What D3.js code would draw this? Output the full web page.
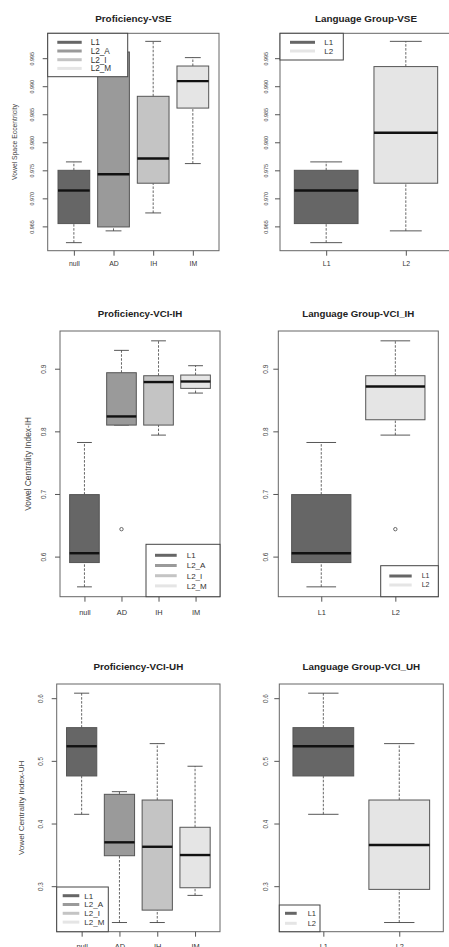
<!DOCTYPE html>
<html>
<head>
<meta charset="utf-8">
<script src="https://cdn.jsdelivr.net/npm/d3@7/dist/d3.min.js"></script>
<style>
  body { margin: 0; background: #fff; }
  svg { display: block; font-family: "Liberation Sans", Arial, sans-serif; }
</style>
</head>
<body>
<svg id="chart" width="449" height="947"></svg>
<script>
// categories and legend labels
const profCats = ["null", "AD", "IH", "IM"]
const langCats = ["L1", "L2"]
const profLegend = ["L1", "L2_A", "L2_I", "L2_M"]
const langLegend = ["L1", "L2"]

// box stats: [lower whisker, Q1, median, Q3, upper whisker]
const vseProf = [
  [0.9621, 0.9655, 0.9714, 0.9750, 0.9765],
  [0.9642, 0.9649, 0.9743, 0.9961, 0.9962],
  [0.9674, 0.9727, 0.9771, 0.9882, 0.9980],
  [0.9762, 0.9861, 0.9909, 0.9936, 0.9951]
]
const vseLang = [
  [0.9621, 0.9655, 0.9714, 0.9750, 0.9765],
  [0.9642, 0.9727, 0.9817, 0.9935, 0.9980]
]
const vciIhProf = [
  [0.5517, 0.5905, 0.6054, 0.6990, 0.7822],
  [0.8100, 0.8100, 0.8238, 0.8936, 0.9293],
  [0.7940, 0.8100, 0.8787, 0.8888, 0.9445],
  [0.8611, 0.8686, 0.8796, 0.8899, 0.9048]
]
const vciIhProfOut = [[], [0.6438], [], []]
const vciIhLang = [
  [0.5517, 0.5905, 0.6054, 0.6990, 0.7822],
  [0.7940, 0.8185, 0.8717, 0.8888, 0.9445]
]
const vciIhLangOut = [[], [0.6438]]
const vciUhProf = [
  [0.4147, 0.4759, 0.5233, 0.5530, 0.6080],
  [0.2420, 0.3486, 0.3700, 0.4466, 0.4508],
  [0.2420, 0.2618, 0.3629, 0.4375, 0.5275],
  [0.2853, 0.2975, 0.3497, 0.3940, 0.4914]
]
const vciUhLang = [
  [0.4147, 0.4759, 0.5233, 0.5530, 0.6080],
  [0.2420, 0.2949, 0.3657, 0.4375, 0.5275]
]

// y tick values
const vseTicks = [0.965, 0.970, 0.975, 0.980, 0.985, 0.990, 0.995]
const vciIhTicks = [0.6, 0.7, 0.8, 0.9]
const vciUhTicks = [0.3, 0.4, 0.5, 0.6]

// fills
const profFills = ["#666666", "#9a9a9a", "#c4c4c4", "#e5e5e5"]
const langFills = ["#666666", "#e5e5e5"]

const panels = [
  {title: "Proficiency-VSE", cats: profCats, stats: vseProf, out: null, fills: profFills,
   ticks: vseTicks, fmt: ".3f", ylab: "Vowel Space Eccentricity",
   l: 47.7, r: 219, t: 33.3, b: 250.7, titleY: 18.3, tickX: 32.2, ylabX: 14, xlabY: 263.3,
   tickFs: 5.4, labFs: 6.8, xFs: 6.9, titleFs: 9.9,
   legend: {labels: profLegend, x0: 47.7, x1: 127.7, y0: 33.3, y1: 76.7, lx0: 57.3, lx1: 81.7, tx: 90.7, ry: 42.3, dy: 8.7, fs: 8.2}},
  {title: "Language Group-VSE", cats: langCats, stats: vseLang, out: null, fills: langFills,
   ticks: vseTicks, fmt: ".3f", ylab: null,
   l: 280, r: 452, t: 33.3, b: 250.7, titleY: 18.3, tickX: 265.5, xlabY: 263.3,
   tickFs: 5.4, xFs: 6.9, titleFs: 9.9,
   legend: {labels: langLegend, x0: 280, x1: 343.3, y0: 33.3, y1: 60, lx0: 290, lx1: 315, tx: 324.3, ry: 42.3, dy: 8.7, fs: 8}},
  {title: "Proficiency-VCI-IH", cats: profCats, stats: vciIhProf, out: vciIhProfOut, fills: profFills,
   ticks: vciIhTicks, fmt: ".1f", ylab: "Vowel Centrality Index-IH",
   l: 60, r: 220, t: 331, b: 596.7, titleY: 313.3, tickX: 43.3, ylabX: 28.3, xlabY: 612.7,
   tickFs: 6.5, labFs: 8.4, xFs: 7.4, titleFs: 9.7,
   legend: {labels: profLegend, x0: 146, x1: 220, y0: 544.3, y1: 596.7, lx0: 155, lx1: 176.7, tx: 186.7, ry: 555.3, dy: 10.2, fs: 8}},
  {title: "Language Group-VCI_IH", cats: langCats, stats: vciIhLang, out: vciIhLangOut, fills: langFills,
   ticks: vciIhTicks, fmt: ".1f", ylab: null,
   l: 278.3, r: 438.3, t: 331, b: 596.7, titleY: 313.3, tickX: 265, xlabY: 612.7,
   tickFs: 6.5, xFs: 7.4, titleFs: 9.7,
   legend: {labels: langLegend, x0: 380.7, x1: 438.3, y0: 565.7, y1: 596.7, lx0: 389.3, lx1: 411.7, tx: 421.7, ry: 576, dy: 9, fs: 7}},
  {title: "Proficiency-VCI-UH", cats: profCats, stats: vciUhProf, out: null, fills: profFills,
   ticks: vciUhTicks, fmt: ".1f", ylab: "Vowel Centrality Index-UH",
   l: 56.7, r: 220, t: 684, b: 931.7, titleY: 666.7, tickX: 40, ylabX: 21.7, xlabY: 946,
   tickFs: 6.3, labFs: 8.1, xFs: 7.4, titleFs: 9.8,
   legend: {labels: profLegend, x0: 56.7, x1: 108.3, y0: 887, y1: 931.7, lx0: 62.7, lx1: 79.3, tx: 84.3, ry: 895.7, dy: 8.8, fs: 8}},
  {title: "Language Group-VCI_UH", cats: langCats, stats: vciUhLang, out: null, fills: langFills,
   ticks: vciUhTicks, fmt: ".1f", ylab: null,
   l: 279.3, r: 443.3, t: 684, b: 931.7, titleY: 666.7, tickX: 265, xlabY: 946,
   tickFs: 6.3, xFs: 7.4, titleFs: 9.8,
   legend: {labels: langLegend, x0: 279.3, x1: 320, y0: 905, y1: 931.7, lx0: 285, lx1: 296.7, tx: 307.7, ry: 913.3, dy: 10, fs: 7.5}}
]

const svg = d3.select("#chart")

panels.forEach(function (p) {
  const n = p.cats.length
  const x = d3.scaleLinear()
    .domain([0.5 - 0.04 * n, n + 0.5 + 0.04 * n])
    .range([p.l, p.r])
  // R style: data range padded 4% on each side
  const all = p.stats.flat().concat(p.out ? p.out.flat() : [])
  const lo = d3.min(all), hi = d3.max(all)
  const pad = (hi - lo) * 0.04
  const y = d3.scaleLinear().domain([lo - pad, hi + pad]).range([p.b, p.t])

  const g = svg.append("g")

  // boxes
  p.stats.forEach(function (s, i) {
    const cx = x(i + 1)
    const hw = x(i + 1.4) - cx
    const cw = x(i + 1.2) - cx
    const bg = g.append("g")
    // whiskers
    bg.append("line").attr("x1", cx).attr("x2", cx).attr("y1", y(s[0])).attr("y2", y(s[1]))
      .attr("stroke", "#555").attr("stroke-width", 0.9).attr("stroke-dasharray", "2.5,1.5")
    bg.append("line").attr("x1", cx).attr("x2", cx).attr("y1", y(s[3])).attr("y2", y(s[4]))
      .attr("stroke", "#555").attr("stroke-width", 0.9).attr("stroke-dasharray", "2.5,1.5")
    // caps
    ;[s[0], s[4]].forEach(function (v) {
      bg.append("line").attr("x1", cx - cw).attr("x2", cx + cw).attr("y1", y(v)).attr("y2", y(v))
        .attr("stroke", "#444").attr("stroke-width", 0.9)
    })
    bg.append("rect")
      .attr("x", cx - hw).attr("width", 2 * hw)
      .attr("y", y(s[3])).attr("height", y(s[1]) - y(s[3]))
      .attr("fill", p.fills[i]).attr("stroke", "#555").attr("stroke-width", 1)
    bg.append("line").attr("x1", cx - hw).attr("x2", cx + hw).attr("y1", y(s[2])).attr("y2", y(s[2]))
      .attr("stroke", "#111").attr("stroke-width", 2.4)
    if (p.out) {
      p.out[i].forEach(function (v) {
        bg.append("circle").attr("cx", cx).attr("cy", y(v)).attr("r", 1.7)
          .attr("fill", "none").attr("stroke", "#444").attr("stroke-width", 0.8)
      })
    }
  })

  // plot frame
  g.append("rect").attr("x", p.l).attr("y", p.t).attr("width", p.r - p.l).attr("height", p.b - p.t)
    .attr("fill", "none").attr("stroke", "#666").attr("stroke-width", 1)

  // y axis
  g.append("g")
    .attr("transform", "translate(" + p.l + ",0)")
    .call(d3.axisLeft(y).tickValues(p.ticks).tickFormat(d3.format(p.fmt)).tickSize(5))
    .call(a => a.select(".domain").remove())
    .call(a => a.selectAll(".tick line").attr("stroke", "#555"))
    .call(a => a.selectAll(".tick text")
      .attr("x", null).attr("dy", null)
      .attr("transform", "translate(" + (p.tickX - p.l) + ",0) rotate(-90)")
      .attr("text-anchor", "middle").attr("dominant-baseline", "central")
      .attr("fill", "#444").style("font-size", p.tickFs + "px")
      .style("font-family", "Liberation Sans, Arial, sans-serif"))

  // x axis
  g.append("g")
    .attr("transform", "translate(0," + p.b + ")")
    .call(d3.axisBottom(x).tickValues(d3.range(1, n + 1)).tickFormat(d => p.cats[d - 1]).tickSize(5))
    .call(a => a.select(".domain").remove())
    .call(a => a.selectAll(".tick line").attr("stroke", "#555"))
    .call(a => a.selectAll(".tick text")
      .attr("y", p.xlabY - p.b).attr("dy", "0.35em")
      .attr("fill", "#333").style("font-size", p.xFs + "px")
      .style("font-family", "Liberation Sans, Arial, sans-serif"))

  // title
  g.append("text")
    .attr("x", (p.l + p.r) / 2).attr("y", p.titleY).attr("dy", "0.35em")
    .attr("text-anchor", "middle").attr("font-weight", "bold")
    .style("font-size", p.titleFs + "px").attr("fill", "#222")
    .text(p.title)

  // y label
  if (p.ylab) {
    g.append("text")
      .attr("transform", "translate(" + p.ylabX + "," + (p.t + p.b) / 2 + ") rotate(-90)")
      .attr("text-anchor", "middle").attr("dominant-baseline", "central")
      .style("font-size", p.labFs + "px").attr("fill", "#444")
      .text(p.ylab)
  }

  // legend
  const lg = p.legend
  const leg = g.append("g")
  leg.append("rect").attr("x", lg.x0).attr("y", lg.y0).attr("width", lg.x1 - lg.x0).attr("height", lg.y1 - lg.y0)
    .attr("fill", "#fff").attr("stroke", "#444").attr("stroke-width", 1)
  lg.labels.forEach(function (lab, i) {
    const yy = lg.ry + i * lg.dy
    leg.append("line").attr("x1", lg.lx0).attr("x2", lg.lx1).attr("y1", yy).attr("y2", yy)
      .attr("stroke", p.fills[i]).attr("stroke-width", 3)
    leg.append("text").attr("x", lg.tx).attr("y", yy).attr("dy", "0.35em")
      .style("font-size", lg.fs + "px").attr("fill", "#333").text(lab)
  })
})
</script>
</body>
</html>
